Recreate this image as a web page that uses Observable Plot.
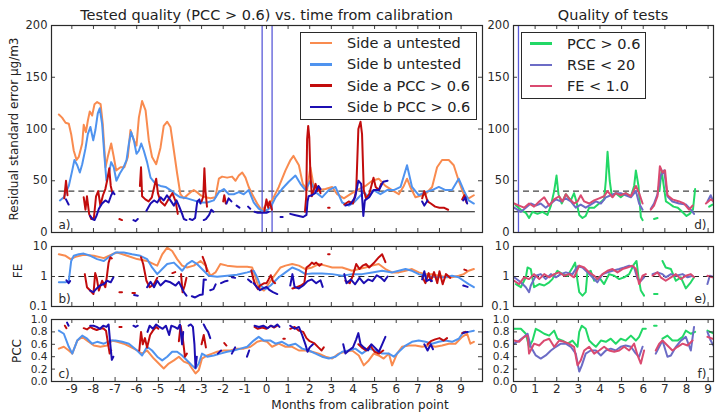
<!DOCTYPE html>
<html><head><meta charset="utf-8">
<script src="https://cdn.jsdelivr.net/npm/d3@7"></script>
<script src="https://cdn.jsdelivr.net/npm/@observablehq/plot@0.6"></script>
<style>
body{margin:0;background:#fff;}
#chart{position:relative;width:724px;height:416px;font-family:"DejaVu Sans",sans-serif;color:#222;overflow:hidden;background:#fff;}
.abs{position:absolute;white-space:nowrap;}
.abs svg{overflow:visible;}
</style></head><body><div id="chart"></div>
<script>
// ---------- tick labels / reference values ----------
const monthTicksLeft = [-9,-8,-7,-6,-5,-4,-3,-2,-1,0,1,2,3,4,5,6,7,8,9];
const monthTicksRight = [0,1,2,3,4,5,6,7,8,9];
const rseTicks = [0,50,100,150,200];
const feTicks = [0.1,1,10];
const pccTicks = [0,0.2,0.4,0.6,0.8,1.0];
const rseRefSolid = [20];
const rseRefDashed = [40];
const feRefDashed = [1];
const spanLeft = [-9.6, 9.66];
const spanRight = [0, 9.25];
const calibLinesLeft = [-0.2, 0.26];
const calibLinesRight = [0.23];

// ---------- left column: residual standard error ----------
const aUntestedRSE = [[-9.60,114],[-9.45,111],[-9.29,106],[-9.14,105],[-9.03,95],[-8.91,79],[-8.78,70],[-8.68,73],[-8.52,86],[-8.45,104],[-8.35,97],[-8.26,108],[-8.17,117],[-8.06,113],[-7.95,124],[-7.83,126],[-7.67,124],[-7.57,105],[-7.44,63],[-7.34,73],[-7.18,86],[-7.06,73],[-6.95,60],[-6.75,63],[-6.57,63],[-6.41,73],[-6.29,99],[-6.13,89],[-6.01,84],[-5.90,111],[-5.75,127],[-5.59,118],[-5.44,89],[-5.29,73],[-5.10,66],[-4.90,82],[-4.75,103],[-4.59,107],[-4.44,102],[-4.28,79],[-4.13,57],[-3.98,37],[-3.82,33],[-3.67,36],[-3.51,39],[-3.36,41],[-3.21,39],[-3.05,36],[-2.82,34],[-2.59,33],[-2.36,34],[-2.20,52],[-2.05,54],[-1.82,53],[-1.59,54],[-1.43,50],[-1.28,55],[-1.12,58],[-0.97,53],[-0.82,44],[-0.66,37],[-0.43,28],[-0.20,21],[-0.05,26],[0.26,31],[0.57,44],[0.88,60],[1.11,70],[1.25,74],[1.50,65],[1.68,47],[1.88,41],[2.03,63],[2.19,44],[2.42,41],[2.73,42],[3.04,44],[3.27,37],[3.58,33],[3.88,37],[4.19,41],[4.58,45],[4.89,50],[5.19,52],[5.50,45],[5.81,41],[6.12,37],[6.35,45],[6.50,52],[6.65,44],[6.89,34],[7.35,37],[7.66,44],[7.89,63],[8.12,70],[8.43,70],[8.66,65],[8.89,50],[9.12,37],[9.35,33],[9.59,36]];
const bUntestedRSE = [[-9.55,31],[-9.37,34],[-9.14,45],[-8.98,60],[-8.88,70],[-8.75,65],[-8.63,58],[-8.52,66],[-8.37,81],[-8.26,95],[-8.14,102],[-8.01,89],[-7.91,99],[-7.80,115],[-7.71,120],[-7.60,105],[-7.49,73],[-7.40,50],[-7.29,57],[-7.18,68],[-7.06,63],[-6.94,50],[-6.78,57],[-6.63,62],[-6.47,70],[-6.36,86],[-6.26,97],[-6.13,89],[-6.01,76],[-5.90,79],[-5.79,86],[-5.67,79],[-5.52,68],[-5.36,53],[-5.13,47],[-4.90,45],[-4.67,44],[-4.44,41],[-4.21,37],[-3.98,34],[-3.67,33],[-3.36,31],[-3.05,29],[-2.74,29],[-2.44,31],[-2.20,39],[-1.97,42],[-1.74,37],[-1.51,37],[-1.28,39],[-1.05,37],[-0.82,41],[-0.59,29],[-0.36,23],[-0.12,20],[0.19,24],[0.42,34],[0.72,42],[1.03,49],[1.34,55],[1.57,47],[1.80,41],[2.03,50],[2.27,39],[2.57,34],[2.88,41],[3.19,44],[3.50,29],[3.81,26],[4.04,29],[4.27,34],[4.50,39],[4.73,34],[4.96,41],[5.27,37],[5.58,41],[5.89,41],[6.20,44],[6.50,65],[6.73,44],[7.04,36],[7.35,39],[7.66,41],[7.97,44],[8.28,41],[8.58,41],[8.89,52],[9.12,41],[9.35,31],[9.59,28]];
const aTestedRSE = [[-9.35,33],[-9.27,50],[-9.20,36],[-9.20,null],
 [-8.45,34],[-8.37,22],[-8.30,35],[-8.20,18],[-8.10,13],[-7.98,14],[-7.88,35],[-7.78,40],[-7.68,26],[-7.56,36],[-7.45,42],[-7.35,52],[-7.27,62],[-7.20,45],[-7.12,38],[-7.12,null],
 [-6.80,13],[-6.68,12],[-6.68,null],
 [-5.85,45],[-5.80,63],[-5.75,35],[-5.60,32],[-5.45,30],[-5.30,34],[-5.10,52],[-5.02,38],[-4.90,30],[-4.70,26],[-4.50,33],[-4.35,38],[-4.20,30],[-4.10,18],[-4.10,null],
 [-3.00,30],[-2.92,35],[-2.87,62],[-2.82,40],[-2.75,25],[-2.75,null],
 [-2.00,30],[-1.95,36],[-1.88,28],[-1.88,null],
 [-0.10,20],[0.00,32],[0.08,24],[0.15,30],[0.25,22],[0.25,null],
 [1.78,20],[1.84,35],[1.88,90],[1.93,103],[1.98,92],[2.03,57],[2.10,35],[2.20,42],[2.27,47],[2.35,40],[2.42,44],[2.50,38],[2.50,null],
 [2.85,24],[2.92,24],[2.92,null],
 [3.60,27],[3.80,30],[4.00,28],[4.15,40],[4.25,100],[4.35,107],[4.42,95],[4.50,41],[4.60,33],[4.75,37],[4.95,53],[5.05,44],[5.20,41],[5.30,47],[5.30,null],
 [7.20,33],[7.30,40],[7.45,30],[7.60,28],[7.80,25],[8.00,24],[8.20,24],[8.40,22],[8.40,null],
 [9.05,32],[9.15,36],[9.25,29]];
const bTestedRSE = [[-9.27,32],[-9.15,27],[-9.15,null],
 [-8.15,16],[-8.05,13],[-7.95,12],[-7.86,16],[-7.75,23],[-7.60,28],[-7.45,31],[-7.30,29],[-7.18,36],[-7.10,39],[-7.03,37],[-7.03,null],
 [-6.15,12],[-6.05,11],[-5.95,13],[-5.95,null],
 [-5.55,21],[-5.36,28],[-5.20,31],[-5.05,29],[-4.90,34],[-4.75,31],[-4.60,36],[-4.44,31],[-4.28,26],[-4.16,31],[-4.05,26],[-3.90,18],[-3.82,13],[-3.70,12],[-3.70,null],
 [-3.55,13],[-3.42,12],[-3.30,14],[-3.20,30],[-3.10,32],[-3.05,28],[-3.05,null],
 [-2.90,12],[-2.80,13],[-2.65,17],[-2.55,22],[-2.45,20],[-2.45,null],
 [-1.85,28],[-1.75,33],[-1.62,30],[-1.62,null],
 [-1.38,26],[-1.25,24],[-1.25,null],
 [-0.85,25],[-0.75,23],[-0.75,null],
 [-0.55,20],[-0.40,19],[-0.20,19],[0.00,19],[0.10,20],[0.10,null],
 [0.65,15],[0.75,15],[0.75,null],
 [1.10,18],[1.30,17],[1.50,16],[1.70,15],[1.85,17],[1.90,30],[1.95,35],[2.10,36],[2.25,38],[2.40,45],[2.50,42],[2.50,null],
 [3.65,26],[3.90,28],[4.10,34],[4.25,50],[4.38,47],[4.48,16],[4.55,31],[4.75,34],[4.95,41],[5.20,41],[5.40,49],[5.60,50],[5.60,null],
 [7.20,30],[7.30,26],[7.45,31],[7.45,null],
 [9.10,31],[9.20,34],[9.28,28]];

// ---------- left column: FE ----------
const aUntestedFE = [[-9.60,5.5],[-9.29,4.9],[-9.06,3.8],[-8.83,4.5],[-8.45,5.3],[-7.98,4.9],[-7.52,4.1],[-7.14,5.5],[-6.90,6.3],[-6.44,4.9],[-5.98,3.8],[-5.52,3.3],[-5.21,2.6],[-5.05,2.3],[-4.82,5.5],[-4.59,9.2],[-4.36,7.1],[-4.13,3.8],[-3.90,2.3],[-3.67,2.0],[-3.36,2.3],[-3.05,3.3],[-2.82,2.3],[-2.59,1.06],[-2.36,1.37],[-2.13,2.6],[-1.82,2.3],[-1.36,2.1],[-0.89,2.1],[-0.66,2.0],[-0.51,0.94],[-0.36,0.44],[-0.12,0.34],[0.05,0.5],[0.19,0.72],[0.42,1.2],[0.65,2.0],[0.88,2.3],[1.19,2.6],[1.50,2.3],[1.80,1.77],[2.11,2.0],[2.42,2.6],[2.73,2.3],[3.04,2.0],[3.50,2.0],[3.96,1.55],[4.27,1.77],[4.58,2.0],[4.89,2.3],[5.19,2.6],[5.50,1.77],[5.81,1.37],[6.12,1.37],[6.43,1.55],[6.73,1.77],[7.04,1.37],[7.35,1.2],[7.66,1.2],[7.97,1.06],[8.35,0.94],[8.58,0.94],[8.89,1.06],[9.12,1.2],[9.35,1.55],[9.59,1.77]];
const bUntestedFE = [[-9.60,0.64],[-9.29,0.64],[-9.14,0.72],[-9.03,3.3],[-8.91,4.9],[-8.68,5.5],[-8.45,5.8],[-8.14,4.9],[-7.83,3.8],[-7.52,3.3],[-7.21,4.9],[-6.98,6.3],[-6.60,6.3],[-6.21,5.5],[-5.83,4.9],[-5.52,3.8],[-5.29,2.0],[-5.05,1.2],[-4.82,1.77],[-4.59,2.6],[-4.28,2.9],[-4.05,2.0],[-3.90,1.55],[-3.67,2.6],[-3.44,3.3],[-3.21,2.6],[-2.90,1.55],[-2.67,1.06],[-2.28,0.98],[-1.82,1.06],[-1.36,1.15],[-0.89,1.37],[-0.59,1.55],[-0.43,0.94],[-0.28,0.5],[-0.05,0.38],[0.19,0.5],[0.57,0.94],[0.88,1.37],[1.19,2.0],[1.50,1.63],[1.80,1.2],[2.11,1.25],[2.57,1.25],[3.04,1.2],[3.50,1.06],[3.96,1.2],[4.42,1.2],[4.89,1.37],[5.35,1.55],[5.81,1.37],[6.12,1.55],[6.43,1.77],[6.73,1.55],[7.04,1.2],[7.35,1.06],[7.66,0.98],[7.97,0.94],[8.28,0.94],[8.58,1.06],[8.89,0.94],[9.12,0.72],[9.35,0.56],[9.59,0.44]];
const aTestedFE = [[-8.40,1.2],[-8.30,0.44],[-8.15,0.34],[-8.00,0.26],[-7.92,1.3],[-7.85,0.9],[-7.75,0.34],[-7.60,0.72],[-7.45,0.44],[-7.38,1.0],[-7.30,2.9],[-7.22,4.4],[-7.15,4.0],[-7.15,null],
 [-6.80,0.3],[-6.68,0.3],[-6.68,null],
 [-6.20,0.28],[-6.08,0.28],[-6.08,null],
 [-5.80,4.4],[-5.70,2.6],[-5.55,0.72],[-5.40,0.44],[-5.20,0.56],[-5.05,0.9],[-5.05,null],
 [-4.35,1.3],[-4.22,1.4],[-4.22,null],
 [-3.95,1.2],[-3.88,0.3],[-3.78,0.5],[-3.70,0.9],[-3.70,null],
 [-2.95,4.5],[-2.87,3.2],[-2.80,2.3],[-2.75,1.5],[-2.75,null],
 [-0.70,1.6],[-0.60,0.8],[-0.50,0.5],[-0.40,0.38],[-0.30,0.5],[-0.20,0.55],[-0.10,0.6],[0.00,0.6],[0.10,0.8],[0.20,1.1],[0.30,0.7],[0.40,0.6],[0.40,null],
 [1.20,0.4],[1.40,0.44],[1.60,0.5],[1.75,0.6],[1.85,2.0],[2.00,2.4],[2.10,2.9],[2.20,2.6],[2.30,2.9],[2.45,2.3],[2.55,2.6],[2.55,null],
 [2.85,5.5],[2.92,5.5],[2.92,null],
 [3.65,0.72],[3.85,0.6],[4.00,1.1],[4.15,2.6],[4.30,1.77],[4.45,2.3],[4.60,2.6],[4.75,2.0],[5.00,3.0],[5.20,4.4],[5.35,5.5],[5.50,3.0],[5.50,null],
 [7.20,1.0],[7.35,0.6],[7.50,1.3],[7.60,0.7],[7.75,1.4],[7.90,0.6],[8.00,1.5],[8.15,0.55],[8.30,1.2],[8.50,0.9],[8.50,null],
 [9.15,1.7],[9.25,1.6]];
const bTestedFE = [[-9.25,0.75],[-9.15,0.6],[-9.08,0.7],[-9.08,null],
 [-8.15,0.34],[-8.00,0.3],[-7.85,0.4],[-7.70,0.5],[-7.52,0.56],[-7.37,0.72],[-7.20,0.64],[-7.08,0.92],[-7.08,null],
 [-6.12,0.24],[-5.95,0.23],[-5.95,null],
 [-5.52,0.44],[-5.36,0.66],[-5.20,0.44],[-5.05,0.72],[-4.90,0.5],[-4.67,0.72],[-4.44,0.64],[-4.20,0.5],[-4.05,0.66],[-3.82,0.3],[-3.70,0.23],[-3.70,null],
 [-3.45,0.22],[-3.30,0.2],[-3.10,0.24],[-2.95,0.25],[-2.90,0.8],[-2.80,0.78],[-2.80,null],
 [-2.60,0.35],[-2.45,0.38],[-2.35,0.55],[-2.35,null],
 [-2.10,0.6],[-1.90,0.7],[-1.80,0.72],[-1.80,null],
 [-1.60,0.95],[-1.45,0.9],[-1.45,null],
 [-0.85,0.8],[-0.70,0.65],[-0.70,null],
 [-0.60,0.6],[-0.45,0.45],[-0.30,0.35],[-0.15,0.4],[0.00,0.45],[0.15,0.35],[0.30,0.3],[0.50,0.26],[0.50,null],
 [1.10,0.5],[1.20,1.2],[1.30,0.45],[1.50,0.4],[1.70,0.5],[1.90,0.7],[2.10,0.8],[2.30,0.6],[2.50,0.75],[2.60,0.45],[2.60,null],
 [3.60,1.2],[3.70,0.6],[3.90,0.8],[4.10,0.55],[4.30,0.9],[4.50,0.6],[4.70,0.8],[4.90,0.7],[5.10,1.1],[5.30,0.9],[5.45,0.7],[5.60,1.0],[5.60,null],
 [7.20,0.8],[7.30,1.5],[7.40,0.7],[7.55,0.8],[7.65,0.7],[7.65,null],
 [9.10,0.5],[9.30,0.45]];

// ---------- left column: PCC ----------
const aUntestedPCC = [[-9.60,0.53],[-9.37,0.56],[-9.14,0.50],[-8.98,0.45],[-8.75,0.66],[-8.52,0.72],[-8.29,0.66],[-7.98,0.58],[-7.68,0.56],[-7.37,0.58],[-7.14,0.66],[-6.90,0.64],[-6.60,0.61],[-6.29,0.56],[-5.98,0.50],[-5.75,0.45],[-5.52,0.50],[-5.21,0.37],[-4.98,0.29],[-4.75,0.21],[-4.52,0.29],[-4.28,0.34],[-4.05,0.40],[-3.82,0.32],[-3.59,0.29],[-3.44,0.21],[-3.28,0.13],[-3.13,0.18],[-2.98,0.37],[-2.74,0.42],[-2.51,0.45],[-2.28,0.48],[-1.97,0.50],[-1.67,0.50],[-1.36,0.53],[-1.05,0.53],[-0.74,0.56],[-0.43,0.64],[-0.20,0.66],[0.03,0.64],[0.26,0.56],[0.57,0.61],[0.88,0.56],[1.19,0.56],[1.50,0.50],[1.80,0.50],[2.11,0.48],[2.42,0.45],[2.73,0.40],[3.04,0.37],[3.34,0.45],[3.65,0.48],[3.96,0.50],[4.27,0.42],[4.50,0.26],[4.73,0.34],[4.96,0.45],[5.19,0.42],[5.42,0.37],[5.66,0.45],[5.81,0.26],[6.04,0.45],[6.27,0.56],[6.58,0.58],[6.89,0.58],[7.20,0.56],[7.50,0.58],[7.81,0.56],[8.12,0.58],[8.43,0.61],[8.74,0.61],[9.05,0.72],[9.28,0.77],[9.43,0.61],[9.59,0.64]];
const bUntestedPCC = [[-9.60,0.82],[-9.37,0.77],[-9.14,0.56],[-8.98,0.45],[-8.75,0.66],[-8.52,0.74],[-8.29,0.69],[-8.06,0.61],[-7.83,0.64],[-7.52,0.61],[-7.21,0.66],[-6.98,0.66],[-6.67,0.64],[-6.36,0.61],[-5.98,0.50],[-5.75,0.42],[-5.52,0.56],[-5.29,0.50],[-5.05,0.40],[-4.82,0.34],[-4.59,0.40],[-4.36,0.48],[-4.13,0.48],[-3.90,0.42],[-3.67,0.34],[-3.44,0.26],[-3.28,0.21],[-3.13,0.29],[-2.98,0.45],[-2.74,0.40],[-2.44,0.42],[-2.13,0.45],[-1.82,0.48],[-1.51,0.50],[-1.20,0.53],[-0.89,0.56],[-0.59,0.66],[-0.36,0.72],[-0.12,0.66],[0.19,0.66],[0.42,0.61],[0.72,0.64],[1.03,0.58],[1.34,0.61],[1.65,0.53],[1.96,0.50],[2.27,0.45],[2.57,0.40],[2.88,0.37],[3.19,0.40],[3.50,0.48],[3.81,0.50],[4.11,0.53],[4.42,0.45],[4.73,0.53],[5.04,0.50],[5.35,0.45],[5.66,0.45],[5.89,0.40],[6.12,0.48],[6.43,0.58],[6.73,0.64],[7.04,0.66],[7.35,0.64],[7.66,0.61],[7.97,0.64],[8.28,0.66],[8.58,0.64],[8.89,0.69],[9.12,0.80],[9.35,0.80],[9.59,0.82]];
const aTestedPCC = [[-9.32,0.9],[-9.25,0.86],[-9.25,null],
 [-8.45,0.86],[-8.30,0.84],[-8.15,0.88],[-8.00,0.85],[-7.85,0.83],[-7.70,0.85],[-7.55,0.86],[-7.42,0.82],[-7.32,0.6],[-7.25,0.45],[-7.18,0.5],[-7.18,null],
 [-6.80,0.88],[-6.70,0.88],[-6.70,null],
 [-5.88,0.5],[-5.80,0.8],[-5.72,0.6],[-5.62,0.7],[-5.52,0.55],[-5.38,0.75],[-5.25,0.82],[-5.10,0.88],[-5.00,0.85],[-5.00,null],
 [-4.05,0.65],[-3.97,0.9],[-3.87,0.7],[-3.77,0.4],[-3.68,0.45],[-3.68,null],
 [-3.00,0.6],[-2.90,0.75],[-2.80,0.55],[-2.80,null],
 [-1.95,0.62],[-1.85,0.58],[-1.85,null],
 [-0.55,0.88],[-0.40,0.85],[-0.20,0.87],[0.00,0.85],[0.20,0.9],[0.35,0.87],[0.50,0.9],[0.50,null],
 [0.78,0.69],[0.85,0.69],[0.85,null],
 [1.10,0.85],[1.30,0.88],[1.50,0.82],[1.70,0.8],[1.85,0.7],[2.00,0.65],[2.20,0.62],[2.40,0.55],[2.55,0.5],[2.65,0.55],[2.65,null],
 [4.25,0.6],[4.40,0.55],[4.60,0.5],[4.80,0.58],[5.00,0.48],[5.20,0.45],[5.40,0.5],[5.40,null],
 [7.45,0.6],[7.60,0.65],[7.80,0.68],[8.00,0.7],[8.20,0.66],[8.35,0.7],[8.35,null],
 [9.05,0.78],[9.20,0.8]];
const bTestedPCC = [[-9.22,0.95],[-9.15,0.9],[-9.15,null],
 [-8.15,0.9],[-8.00,0.9],[-7.85,0.88],[-7.70,0.85],[-7.55,0.9],[-7.40,0.88],[-7.30,0.92],[-7.22,0.6],[-7.15,0.35],[-7.08,0.4],[-7.08,null],
 [-6.15,0.9],[-6.05,0.88],[-5.95,0.9],[-5.95,null],
 [-5.50,0.8],[-5.40,0.9],[-5.25,0.85],[-5.10,0.92],[-4.95,0.88],[-4.80,0.85],[-4.65,0.9],[-4.50,0.75],[-4.40,0.9],[-4.25,0.88],[-4.10,0.85],[-4.00,0.92],[-3.90,0.6],[-3.85,0.8],[-3.85,null],
 [-3.60,0.9],[-3.50,0.92],[-3.40,0.88],[-3.33,0.6],[-3.28,0.22],[-3.22,0.4],[-3.22,null],
 [-2.90,0.92],[-2.80,0.85],[-2.70,0.8],[-2.60,0.7],[-2.60,null],
 [-2.25,0.45],[-2.10,0.5],[-2.10,null],
 [-1.60,0.45],[-1.45,0.55],[-1.45,null],
 [-0.90,0.4],[-0.80,0.5],[-0.80,null],
 [-0.55,0.9],[-0.35,0.88],[-0.15,0.9],[0.05,0.86],[0.20,0.9],[0.35,0.88],[0.50,0.92],[0.60,0.88],[0.60,null],
 [1.10,0.9],[1.30,0.85],[1.50,0.88],[1.65,0.75],[1.80,0.6],[1.90,0.48],[2.00,0.55],[2.15,0.6],[2.15,null],
 [3.55,0.6],[3.65,0.45],[3.80,0.5],[4.00,0.55],[4.15,0.68],[4.25,0.78],[4.35,0.6],[4.50,0.55],[4.70,0.5],[4.85,0.6],[5.00,0.55],[5.20,0.48],[5.35,0.6],[5.50,0.72],[5.50,null],
 [7.30,0.6],[7.45,0.5],[7.60,0.6],[7.70,0.52],[7.70,null],
 [9.10,0.78],[9.30,0.8]];

// ---------- right column: quality of tests ----------
const pccTestRSE = [[0.11,26],[0.34,22],[0.57,19],[0.72,14],[0.88,20],[1.11,18],[1.34,20],[1.57,17],[1.73,26],[1.88,40],[1.99,55],[2.08,37],[2.23,28],[2.42,37],[2.65,31],[2.80,38],[2.91,30],[3.04,17],[3.19,14],[3.34,16],[3.50,24],[3.73,24],[3.96,28],[4.19,32],[4.27,50],[4.35,78],[4.45,50],[4.55,35],[4.73,38],[4.96,34],[5.19,38],[5.43,35],[5.58,45],[5.66,60],[5.78,45],[5.89,15],[5.97,12],[5.97,null],[6.50,13],[6.66,14],[6.66,null],[6.75,40],[6.85,60],[6.95,45],[7.05,30],[7.20,28],[7.40,25],[7.60,24],[7.80,20],[8.00,16],[8.15,18],[8.30,22],[8.40,42],[8.40,null],[9.05,25],[9.20,27]];
const rseTestRSE = [[0.03,24],[0.34,20],[0.57,24],[0.80,28],[1.03,26],[1.26,28],[1.49,24],[1.73,28],[1.96,32],[2.19,30],[2.42,33],[2.65,30],[2.88,24],[3.11,27],[3.34,24],[3.57,27],[3.81,30],[4.04,28],[4.27,34],[4.50,36],[4.73,38],[4.96,38],[5.19,36],[5.43,34],[5.66,40],[5.81,28],[5.97,22],[5.97,null],[6.35,23],[6.50,28],[6.66,37],[6.81,55],[6.97,60],[7.12,35],[7.35,30],[7.66,28],[7.97,27],[8.20,22],[8.35,18],[8.35,null],[8.97,30],[9.12,36],[9.28,28]];
const feTestRSE = [[0.03,28],[0.26,26],[0.49,24],[0.72,28],[0.95,25],[1.19,30],[1.42,34],[1.65,26],[1.88,32],[2.11,35],[2.27,30],[2.42,37],[2.57,33],[2.80,28],[2.96,30],[3.11,36],[3.27,30],[3.50,28],[3.73,31],[3.96,33],[4.19,35],[4.35,40],[4.58,34],[4.73,38],[4.96,36],[5.19,38],[5.43,35],[5.66,45],[5.81,38],[5.97,28],[5.97,null],[6.35,22],[6.50,26],[6.66,35],[6.77,64],[6.89,58],[7.01,60],[7.12,36],[7.35,32],[7.66,30],[7.89,28],[8.12,22],[8.28,26],[8.28,null],[8.90,28],[9.12,32],[9.28,30]];
const pccTestFE = [[0.11,0.56],[0.34,0.44],[0.57,0.94],[0.65,2.0],[0.80,1.77],[0.95,0.44],[1.19,0.56],[1.42,0.50],[1.65,0.64],[1.80,0.82],[2.03,1.55],[2.27,1.2],[2.50,1.06],[2.73,2.0],[2.85,2.9],[2.96,0.72],[3.04,0.30],[3.19,0.23],[3.34,0.30],[3.42,1.37],[3.57,1.55],[3.73,0.72],[3.96,0.94],[4.19,0.56],[4.42,1.2],[4.66,1.06],[4.89,0.82],[5.12,0.94],[5.35,1.2],[5.58,2.6],[5.69,3.3],[5.78,0.94],[5.89,0.34],[6.04,0.23],[6.04,null],[6.50,0.26],[6.66,0.26],[6.66,null],[6.89,3.3],[7.04,2.0],[7.28,1.77],[7.51,0.72],[7.74,0.94],[7.97,0.40],[8.20,0.64],[8.35,0.94],[8.35,null]];
const rseTestFE = [[0.03,0.94],[0.34,0.64],[0.57,0.44],[0.72,0.30],[0.80,0.50],[1.03,1.06],[1.26,1.2],[1.49,0.82],[1.73,1.2],[1.96,0.94],[2.19,1.2],[2.42,1.37],[2.73,1.2],[2.96,2.2],[3.19,2.0],[3.42,1.37],[3.65,0.94],[3.88,0.64],[4.12,1.2],[4.35,1.37],[4.58,1.55],[4.89,1.77],[5.12,2.0],[5.35,2.3],[5.58,2.0],[5.74,0.82],[5.89,0.72],[6.04,0.94],[6.04,null],[6.43,1.2],[6.66,1.37],[6.89,1.2],[7.04,0.94],[7.28,1.2],[7.51,1.06],[7.82,1.2],[8.05,0.94],[8.28,1.06],[8.28,null],[8.97,0.56],[9.08,1.06],[9.28,0.94]];
const feTestFE = [[0.03,0.72],[0.26,0.56],[0.49,0.94],[0.72,0.82],[0.95,1.2],[1.19,0.82],[1.42,1.2],[1.65,0.94],[1.88,1.2],[2.11,1.37],[2.34,1.06],[2.57,1.2],[2.80,0.94],[3.04,2.3],[3.27,2.0],[3.50,1.37],[3.73,1.06],[3.88,0.82],[4.12,1.2],[4.35,1.55],[4.58,1.77],[4.81,1.37],[5.04,1.77],[5.27,2.0],[5.50,2.3],[5.66,1.77],[5.81,0.56],[5.97,1.06],[6.12,1.2],[6.12,null],[6.43,1.06],[6.66,1.37],[6.81,0.94],[7.04,0.72],[7.28,0.94],[7.51,1.2],[7.74,0.82],[7.97,1.06],[8.20,1.2],[8.35,0.94],[8.35,null],[8.97,1.06],[9.20,0.94]];
const pccTestPCC = [[0.03,0.85],[0.34,0.85],[0.57,0.77],[0.72,0.56],[0.88,0.66],[1.03,0.85],[1.19,0.82],[1.42,0.77],[1.65,0.74],[1.88,0.82],[2.03,0.69],[2.27,0.66],[2.50,0.61],[2.73,0.66],[2.96,0.56],[3.04,0.80],[3.16,0.90],[3.34,0.85],[3.50,0.66],[3.65,0.61],[3.81,0.56],[4.04,0.66],[4.27,0.64],[4.50,0.69],[4.73,0.61],[4.96,0.69],[5.19,0.66],[5.43,0.74],[5.66,0.66],[5.81,0.72],[5.97,0.85],[6.12,0.85],[6.12,null],[6.50,0.9],[6.62,0.9],[6.62,null],[6.89,0.69],[7.12,0.74],[7.35,0.66],[7.59,0.66],[7.82,0.72],[7.97,0.82],[8.20,0.77],[8.40,0.80],[8.40,null],[8.97,0.82],[9.28,0.77]];
const rseTestPCC = [[0.03,0.61],[0.26,0.66],[0.49,0.72],[0.65,0.77],[0.80,0.56],[1.03,0.42],[1.26,0.37],[1.49,0.42],[1.73,0.50],[1.96,0.56],[2.19,0.61],[2.42,0.61],[2.65,0.56],[2.88,0.45],[3.04,0.16],[3.16,0.26],[3.34,0.45],[3.57,0.50],[3.81,0.50],[4.04,0.42],[4.27,0.50],[4.50,0.53],[4.73,0.50],[4.96,0.56],[5.19,0.58],[5.43,0.56],[5.66,0.45],[5.81,0.40],[5.97,0.56],[5.97,null],[6.58,0.45],[6.74,0.56],[6.89,0.66],[7.12,0.40],[7.28,0.42],[7.51,0.56],[7.74,0.66],[7.97,0.72],[8.20,0.50],[8.35,0.88],[8.35,null],[8.97,0.80],[9.12,0.66],[9.28,0.56]];
const feTestPCC = [[0.03,0.66],[0.26,0.64],[0.49,0.72],[0.65,0.74],[0.72,0.45],[0.95,0.61],[1.19,0.58],[1.42,0.66],[1.65,0.69],[1.88,0.56],[2.11,0.66],[2.34,0.64],[2.57,0.61],[2.80,0.56],[2.96,0.26],[3.11,0.34],[3.27,0.50],[3.50,0.56],[3.73,0.45],[3.96,0.50],[4.19,0.56],[4.42,0.50],[4.66,0.48],[4.89,0.50],[5.12,0.56],[5.35,0.50],[5.58,0.61],[5.74,0.42],[5.89,0.29],[6.04,0.50],[6.04,null],[6.58,0.50],[6.74,0.61],[6.89,0.66],[7.12,0.58],[7.35,0.50],[7.59,0.56],[7.82,0.61],[8.05,0.58],[8.28,0.66],[8.28,null],[8.97,0.72],[9.20,0.69]];

// ---------- styling ----------
const C = {aU:"#f98b4f", bU:"#4f93ef", aT:"#c20c0c", bT:"#1c0eb2", pcc:"#22d866", rse:"#6c6cc6", fe:"#da4a70", calib:"#5a5ad8", ink:"#2a2a2a"};
const FONT = "DejaVu Sans, sans-serif";

const rows = pairs => pairs.map(([m, v]) => ({m, v: v == null ? NaN : v}));
const line = (pairs, color, w = 2) => Plot.line(rows(pairs), {x: "m", y: "v", stroke: color, strokeWidth: w, strokeLinejoin: "round", strokeLinecap: "round", clip: true});

const LEFT = {svgLeft: 0, width: 490, marginLeft: 51, marginRight: 8, xDomain: [-9.94, 9.99], xTicks: monthTicksLeft, span: spanLeft, anchor: "bottom-left", dx: 7, ta: "start"};
const RIGHT = {svgLeft: 480, width: 244, marginLeft: 33, marginRight: 11, xDomain: [0, 9.25], xTicks: monthTicksRight, span: spanRight, anchor: "bottom-right", dx: -7, ta: "end"};
const ROWS = {
  rse: {svgTop: 18, height: 221, marginTop: 7, marginBottom: 7, type: "linear", domain: [0, 200], ticks: rseTicks, fmt: d => String(d), fs: 11.5},
  fe:  {svgTop: 239, height: 73, marginTop: 7, marginBottom: 6, type: "log", domain: [0.1, 10], ticks: feTicks, fmt: d => String(d), fs: 11.5},
  pcc: {svgTop: 312, height: 88, marginTop: 7, marginBottom: 19, type: "linear", domain: [0, 1], ticks: pccTicks, fmt: d3.format(".1f"), fs: 10.6}
};

const chart = document.getElementById("chart");

function panel(col, row, marks, label, withX) {
  const fw = col.width - col.marginLeft - col.marginRight;
  const fh = row.height - row.marginTop - row.marginBottom;
  const all = [
    ...marks,
    Plot.tickX(col.xTicks, {x: d => d, stroke: C.ink, strokeWidth: 0.9, insetTop: fh - 4}),
    Plot.tickX(col.xTicks, {x: d => d, stroke: C.ink, strokeWidth: 0.9, insetBottom: fh - 4}),
    Plot.tickY(row.ticks, {y: d => d, stroke: C.ink, strokeWidth: 0.9, insetRight: fw - 4}),
    Plot.tickY(row.ticks, {y: d => d, stroke: C.ink, strokeWidth: 0.9, insetLeft: fw - 4}),
    Plot.axisY(row.ticks, {tickSize: 0, tickPadding: 4, tickFormat: row.fmt, fontSize: row.fs, fill: C.ink, label: null}),
    Plot.text([label], {frameAnchor: col.anchor, text: d => d, dx: col.dx, dy: -4, textAnchor: col.ta, lineAnchor: "bottom", fontSize: 12, fill: C.ink}),
    Plot.frame({stroke: C.ink, strokeWidth: 1.2})
  ];
  if (withX) all.push(Plot.axisX(col.xTicks, {tickSize: 0, tickPadding: 3, tickFormat: d => String(d), fontSize: 12, fill: C.ink, label: null}));
  const svg = Plot.plot({
    width: col.width, height: row.height,
    marginLeft: col.marginLeft, marginRight: col.marginRight, marginTop: row.marginTop, marginBottom: row.marginBottom,
    x: withX ? {domain: col.xDomain, label: null} : {domain: col.xDomain, axis: null, label: null},
    y: {type: row.type, domain: row.domain, label: null},
    style: {fontFamily: FONT, fontSize: "12px", color: C.ink, background: "transparent", overflow: "visible"},
    marks: all
  });
  const wrap = document.createElement("div");
  wrap.className = "abs";
  wrap.style.left = col.svgLeft + "px";
  wrap.style.top = row.svgTop + "px";
  wrap.appendChild(svg);
  chart.appendChild(wrap);
}

const refLines = (col, row) => {
  if (row === ROWS.rse) return [
    Plot.ruleY(rseRefSolid, {x1: col.span[0], x2: col.span[1], stroke: "#111", strokeWidth: 1.1}),
    Plot.ruleY(rseRefDashed, {x1: col.span[0], x2: col.span[1], stroke: "#444", strokeWidth: 1.3, strokeDasharray: "6,4"})
  ];
  if (row === ROWS.fe) return [
    Plot.ruleY(feRefDashed, {x1: col.span[0], x2: col.span[1], stroke: "#222", strokeWidth: 1.2, strokeDasharray: "6,4"})
  ];
  return [];
};

// left column
panel(LEFT, ROWS.rse, [...refLines(LEFT, ROWS.rse), Plot.ruleX(calibLinesLeft, {stroke: C.calib, strokeWidth: 1.3}),
  line(aUntestedRSE, C.aU), line(bUntestedRSE, C.bU), line(aTestedRSE, C.aT), line(bTestedRSE, C.bT)], "a)", false);
panel(LEFT, ROWS.fe, [...refLines(LEFT, ROWS.fe),
  line(aUntestedFE, C.aU), line(bUntestedFE, C.bU), line(aTestedFE, C.aT), line(bTestedFE, C.bT)], "b)", false);
panel(LEFT, ROWS.pcc, [
  line(aUntestedPCC, C.aU), line(bUntestedPCC, C.bU), line(aTestedPCC, C.aT), line(bTestedPCC, C.bT)], "c)", true);
// right column
panel(RIGHT, ROWS.rse, [...refLines(RIGHT, ROWS.rse), Plot.ruleX(calibLinesRight, {stroke: C.calib, strokeWidth: 1.3}),
  line(pccTestRSE, C.pcc), line(rseTestRSE, C.rse), line(feTestRSE, C.fe)], "d)", false);
panel(RIGHT, ROWS.fe, [...refLines(RIGHT, ROWS.fe),
  line(pccTestFE, C.pcc), line(rseTestFE, C.rse), line(feTestFE, C.fe)], "e)", false);
panel(RIGHT, ROWS.pcc, [
  line(pccTestPCC, C.pcc), line(rseTestPCC, C.rse), line(feTestPCC, C.fe)], "f)", true);

// ---------- titles and labels ----------
function addText(txt, x, y, size, rotate) {
  const d = document.createElement("div");
  d.className = "abs";
  d.textContent = txt;
  d.style.left = x + "px";
  d.style.top = y + "px";
  d.style.fontSize = size + "px";
  d.style.lineHeight = "1";
  d.style.color = "#222";
  d.style.transform = "translate(-50%,-50%)" + (rotate ? " rotate(-90deg)" : "");
  chart.appendChild(d);
}
addText("Tested quality (PCC > 0.6) vs. time from calibration", 266.5, 15, 14.5);
addText("Quality of tests", 613, 15, 14.5);
addText("Residual standard error µg/m3", 13.5, 128.5, 12, true);
addText("FE", 18, 271, 12, true);
addText("PCC", 17, 351, 12, true);
addText("Months from calibration point", 360, 405, 12);

// ---------- legends ----------
const legendLeft = [["Side a untested", C.aU], ["Side b untested", C.bU], ["Side a PCC > 0.6", C.aT], ["Side b PCC > 0.6", C.bT]];
const legendRight = [["PCC > 0.6", C.pcc], ["RSE < 20", C.rse], ["FE < 1.0", C.fe]];
function legend(items, x, y, w, h, firstRow, step, lx, lw, tx) {
  const box = document.createElement("div");
  box.className = "abs";
  Object.assign(box.style, {left: x + "px", top: y + "px", width: w + "px", height: h + "px", boxSizing: "border-box", border: "1.3px solid #2a2a2a", background: "#fff"});
  items.forEach(([name, color], i) => {
    const cy = firstRow + i * step;
    const ln = document.createElement("div");
    ln.className = "abs";
    Object.assign(ln.style, {left: lx + "px", top: (cy - 1.25) + "px", width: lw + "px", height: "2.5px", background: color});
    const t = document.createElement("div");
    t.className = "abs";
    t.textContent = name;
    Object.assign(t.style, {left: tx + "px", top: (cy - 9) + "px", fontSize: "14.5px", lineHeight: "18px", color: "#222"});
    box.appendChild(ln); box.appendChild(t);
  });
  chart.appendChild(box);
}
legend(legendLeft, 300, 32, 177, 88, 10, 21.3, 9, 22, 46);
legend(legendRight, 521, 32, 125, 67, 10.5, 21.3, 8, 22, 45);
</script></body></html>
